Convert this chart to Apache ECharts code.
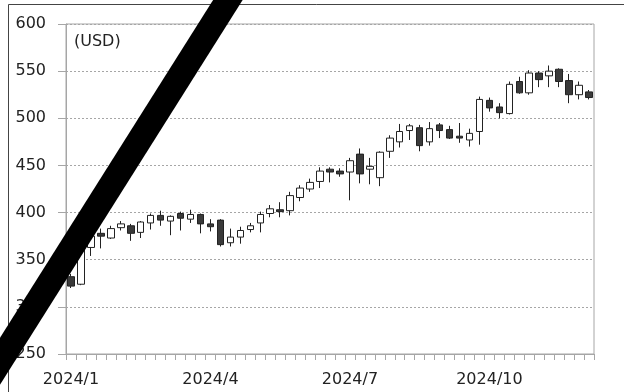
<!DOCTYPE html>
<html>
<head>
<meta charset="utf-8">
<script src="https://cdn.jsdelivr.net/npm/echarts@6/dist/echarts.min.js"></script>
<style>
html,body{margin:0;padding:0;background:#fff;}
#chart{width:624px;height:392px;}
</style>
</head>
<body>
<div id="chart"></div>
<script>
// Weekly candles (index 0 .. 52)
var weeks = ['W1','W2','W3','W4','W5','W6','W7','W8','W9','W10','W11','W12','W13','W14','W15','W16','W17','W18','W19','W20','W21','W22','W23','W24','W25','W26','W27','W28','W29','W30','W31','W32','W33','W34','W35','W36','W37','W38','W39','W40','W41','W42','W43','W44','W45','W46','W47','W48','W49','W50','W51','W52','W53'];
var opens  = [332,324,363,378,373,384,386,379,389,397,391,399,393,398,388,392,368,374,382,389,399,403,402,416,425,433,446,444,443,462,446,437,465,475,487,490,475,493,488,481,477,486,519,512,505,539,527,548,545,552,540,525,528];
var closes = [322,362,375,375,383,388,378,390,397,392,396,394,398,388,385,366,374,381,386,398,404,401,418,426,432,444,443,441,455,441,449,464,479,486,492,471,489,487,479,479,484,520,511,506,536,527,548,541,550,539,525,535,522];
var lows   = [320,323,354,362,372,381,370,373,382,386,376,381,389,378,380,364,364,367,379,379,395,395,397,412,422,426,432,438,413,431,430,428,458,469,477,465,471,479,478,474,470,472,507,500,504,526,525,533,533,533,516,520,520];
var highs  = [335,364,382,383,386,391,388,391,399,402,397,401,403,399,393,393,383,385,389,401,408,411,422,429,436,448,448,447,458,468,458,465,482,494,494,493,496,495,492,495,489,523,522,516,539,544,551,550,556,553,547,539,530];
var tickIndex  = [0, 14, 28, 42];
var tickLabels = ['2024/1', '2024/4', '2024/7', '2024/10'];
var unitLabel = '(USD)';

var candles = opens.map(function (o, i) { return [o, closes[i], lows[i], highs[i]]; });

var chart = echarts.init(document.getElementById('chart'), null, {renderer: 'canvas'});
var FONT = 'DejaVu Sans';
chart.setOption({
  animation: false,
  backgroundColor: '#ffffff',
  grid: {left: 66, right: 30, top: 24, bottom: 38, show: true, borderColor: '#a6a6a6', borderWidth: 1, backgroundColor: 'transparent'},
  xAxis: {
    type: 'category',
    data: weeks,
    boundaryGap: true,
    axisLine: {show: true, lineStyle: {color: '#a6a6a6', width: 1}},
    axisTick: {show: true, interval: 0, length: 6, lineStyle: {color: '#a6a6a6'}},
    axisLabel: {
      interval: function (idx) { return tickIndex.indexOf(idx) >= 0; },
      formatter: function (v, idx) { var k = tickIndex.indexOf(idx); return k >= 0 ? tickLabels[k] : ''; },
      margin: 18, fontFamily: FONT, fontSize: 16, color: '#222'
    },
    splitLine: {show: false}
  },
  yAxis: {
    type: 'value',
    min: 250, max: 600, interval: 50,
    axisLine: {show: true, lineStyle: {color: '#a6a6a6', width: 1}},
    axisTick: {show: true, length: 8, lineStyle: {color: '#a6a6a6'}},
    axisLabel: {margin: 20, fontFamily: FONT, fontSize: 16, color: '#222'},
    splitLine: {show: true, lineStyle: {color: '#a6a6a6', type: [2, 2], width: 1}}
  },
  series: [{
    type: 'candlestick',
    data: candles,
    barWidth: 7,
    itemStyle: {color: '#ffffff', color0: '#3a3a3a', borderColor: '#222222', borderColor0: '#222222', borderWidth: 1}
  }],
  graphic: [
    {type: 'rect', shape: {x: 8.5, y: 4.5, width: 800, height: 600}, style: {fill: null, stroke: '#444', lineWidth: 1}, z: 50, silent: true},
    {type: 'text', left: 74, top: 34, style: {text: unitLabel, font: '16px "DejaVu Sans"', fill: '#222'}, z: 50},
    {type: 'line', shape: {x1: 240.5, y1: -20, x2: -32, y2: 412}, style: {stroke: '#000', lineWidth: 25}, z: 100, silent: true}
  ]
});
</script>
</body>
</html>
